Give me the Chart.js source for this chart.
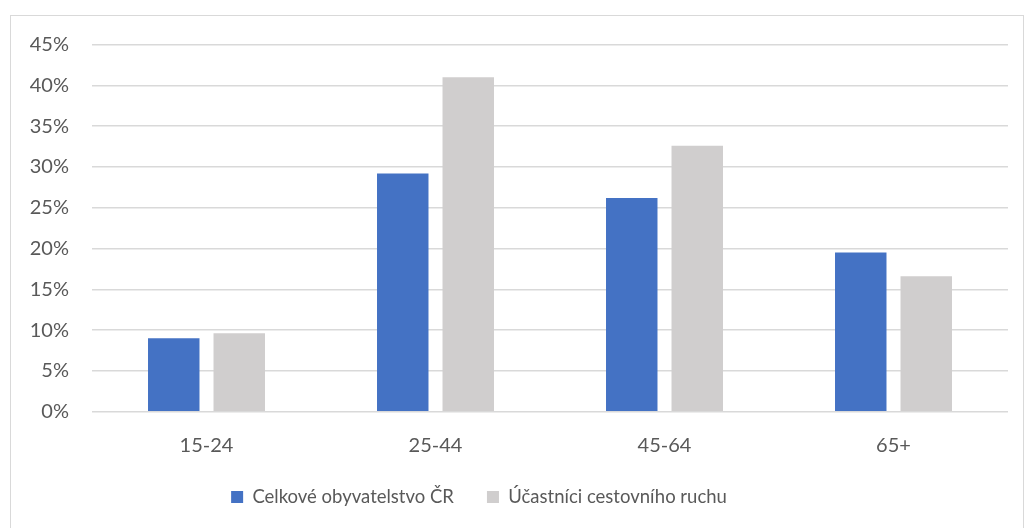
<!DOCTYPE html>
<html>
<head>
<meta charset="utf-8">
<script src="https://cdn.jsdelivr.net/npm/chart.js@4.4.1/dist/chart.umd.min.js"></script>
<style>
  html, body { margin: 0; padding: 0; background: #ffffff; overflow: hidden; }
  #wrap { position: absolute; left: 0; top: 0; width: 1026px; height: 528px; }
  #frame { position: absolute; left: 10px; top: 15px; width: 1014px; height: 600px;
           border: 1px solid #d9d9d9; box-sizing: border-box; pointer-events: none; }
</style>
</head>
<body>
<div id="wrap"><canvas id="chart" width="1026" height="528"></canvas></div>
<div id="frame"></div>
<script>
// Age groups and share of each group (percent)
const categories = ['15-24', '25-44', '45-64', '65+'];
const seriesNames = ['Celkové obyvatelstvo ČR', 'Účastníci cestovního ruchu'];
const population = [9.0, 29.2, 26.2, 19.5];
const travellers = [9.6, 41.0, 32.6, 16.6];
const yTicks = [0, 5, 10, 15, 20, 25, 30, 35, 40, 45];

const textColor = '#595959';
const fontFamily = 'Lato, "Open Sans", sans-serif';

new Chart(document.getElementById('chart'), {
  type: 'bar',
  data: {
    labels: categories,
    datasets: [
      { label: seriesNames[0], data: population, backgroundColor: '#4472C4', borderWidth: 0 },
      { label: seriesNames[1], data: travellers, backgroundColor: '#D0CECE', borderWidth: 0 }
    ]
  },
  options: {
    responsive: false,
    animation: false,
    events: [],
    layout: { padding: { top: 44.5, right: 18, bottom: 11.75, left: -50 } },
    datasets: { bar: { categoryPercentage: 0.572, barPercentage: 0.786 } },
    plugins: {
      tooltip: { enabled: false },
      legend: {
        position: 'bottom',
        labels: {
          color: textColor,
          font: { family: fontFamily, size: 18.5 },
          boxWidth: 12,
          boxHeight: 12,
          padding: 33
        }
      }
    },
    scales: {
      x: {
        grid: { display: false },
        border: { display: false },
        ticks: { color: textColor, font: { family: fontFamily, size: 20 }, padding: 14 },
        afterFit: s => { s.height = 43.05; }
      },
      y: {
        min: 0,
        max: 45,
        afterBuildTicks: s => { s.ticks = yTicks.map(v => ({ value: v })); },
        grid: { color: '#d9d9d9', lineWidth: 1.5, drawTicks: false },
        border: { display: false },
        ticks: {
          color: textColor,
          font: { family: fontFamily, size: 20 },
          padding: 23,
          callback: v => v + '%'
        },
        afterFit: s => { s.width = 142; }
      }
    }
  }
});
</script>
</body>
</html>
